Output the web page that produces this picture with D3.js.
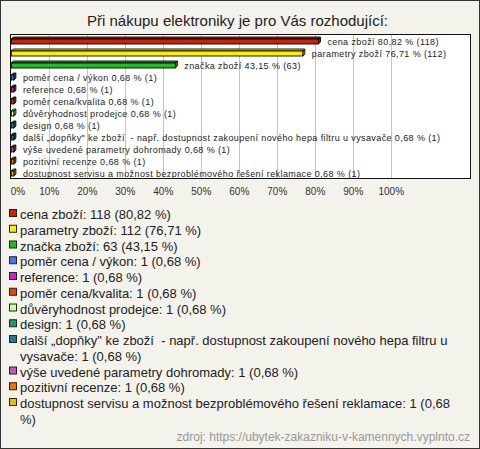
<!DOCTYPE html>
<html><head><meta charset="utf-8">
<script src="https://cdn.jsdelivr.net/npm/d3@7/dist/d3.min.js"></script>
<style>body{margin:0;background:#fff}svg{display:block}text{font-family:"Liberation Sans",Arial,sans-serif}</style>
</head><body>
<script>
const title = "Při nákupu elektroniky je pro Vás rozhodující:";
const categories = ["cena zboží","parametry zboží","značka zboží","poměr cena / výkon","reference","poměr cena/kvalita","důvěryhodnost prodejce","design","další „dopňky\" ke zboží  - např. dostupnost zakoupení nového hepa filtru u vysavače","výše uvedené parametry dohromady","pozitivní recenze","dostupnost servisu a možnost bezproblémového řešení reklamace"];
const counts = [118,112,63,1,1,1,1,1,1,1,1,1];
const percents = [80.82,76.71,43.15,0.68,0.68,0.68,0.68,0.68,0.68,0.68,0.68,0.68];
const colors = ["#cc2200","#ffee00","#22bb22","#4477ee","#cc22cc","#e04410","#ccff99","#229966","#227799","#cc55bb","#ee7700","#eebb00"];
const ticks = [0,10,20,30,40,50,60,70,80,90,100];
const source = "zdroj: https://ubytek-zakazniku-v-kamennych.vyplnto.cz";

const W=480,H=449;
const fmt = v => d3.format(".2f")(v).replace(".",",");
const svg = d3.select("body").append("svg").attr("width",W).attr("height",H);
svg.append("rect").attr("x",0.5).attr("y",0.5).attr("width",W-1).attr("height",H-1).attr("fill","#f3f2eb").attr("stroke","#333");
svg.append("text").attr("x",237.5).attr("y",26).attr("text-anchor","middle").attr("font-size",15).attr("fill","#222").text(title);

const plot = {x0:10.5,x1:470.5,y0:34.5,y1:178.5};
svg.append("rect").attr("x",plot.x0).attr("y",plot.y0).attr("width",plot.x1-plot.x0).attr("height",plot.y1-plot.y0).attr("fill","#fff");
const x = d3.scaleLinear().domain([0,100]).range([11.3,391.3]);
const y = d3.scaleBand().domain(categories).range([plot.y0,plot.y1]);
svg.append("g").selectAll("line").data(ticks.filter(t=>t>0)).join("line")
  .attr("x1",d=>Math.round(x(d))+0.5).attr("x2",d=>Math.round(x(d))+0.5)
  .attr("y1",plot.y0).attr("y2",plot.y1).attr("stroke","#c4c4c4");
svg.append("rect").attr("x",plot.x0).attr("y",plot.y0).attr("width",plot.x1-plot.x0).attr("height",plot.y1-plot.y0).attr("fill","none").attr("stroke","#111");

const depth=2, bh=5;
const bars = svg.append("g").selectAll("g").data(categories).join("g");
bars.each(function(c,i){
  const g=d3.select(this);
  const x0=x(0), x1=x(percents[i]), yt=y(c)+y.bandwidth()/2-bh/2+1, yb=yt+bh;
  const col=colors[i], dark=d3.color(col).darker(0.8);
  g.append("path").attr("d",`M${x0},${yt}L${x0+depth},${yt-depth}L${x1+depth},${yt-depth}L${x1},${yt}Z`).attr("fill",col).attr("stroke","#000").attr("stroke-width",0.9);
  g.append("path").attr("d",`M${x1},${yt}L${x1+depth},${yt-depth}L${x1+depth},${yb-depth}L${x1},${yb}Z`).attr("fill",dark).attr("stroke","#000").attr("stroke-width",0.9);
  g.append("rect").attr("x",x0).attr("y",yt).attr("width",x1-x0).attr("height",bh).attr("fill",col).attr("stroke","#000").attr("stroke-width",0.9);
  g.append("text").attr("x",x1+depth+7).attr("y",yt+bh/2+3).attr("font-size",9).attr("letter-spacing",0.4).attr("fill","#222")
    .style("white-space","pre").text(`${c} ${fmt(percents[i])} % (${counts[i]})`);
});

svg.append("g").selectAll("text").data(ticks).join("text")
  .attr("x",d=>d===0?18:x(d)).attr("y",195).attr("text-anchor","middle").attr("font-size",10).attr("fill","#333")
  .text(d=>d+"%");

// legend
const lh=15.75, maxW=448, lx=20;
let line=0;
categories.forEach((c,i)=>{
  const yy=219+line*lh;
  svg.append("rect").attr("x",9.5).attr("y",yy-9.5).attr("width",7).attr("height",7).attr("fill",colors[i]).attr("stroke","#222");
  const t=svg.append("text").attr("x",lx).attr("y",yy).attr("font-size",13).attr("fill","#222").style("white-space","pre");
  const words=(`${c}: ${counts[i]} (${fmt(percents[i])} %)`).split(" ");
  let cur=[], ts=t.append("tspan").attr("x",lx).attr("y",yy);
  words.forEach(w=>{
    cur.push(w); ts.text(cur.join(" "));
    if(ts.node().getComputedTextLength()>maxW && cur.length>1){
      cur.pop(); ts.text(cur.join(" ")); cur=[w]; line++;
      ts=t.append("tspan").attr("x",lx).attr("y",219+line*lh).text(w);
    }
  });
  line++;
});
svg.append("text").attr("x",470).attr("y",441).attr("text-anchor","end").attr("font-size",12).attr("fill","#999").text(source);
</script>
</body></html>
